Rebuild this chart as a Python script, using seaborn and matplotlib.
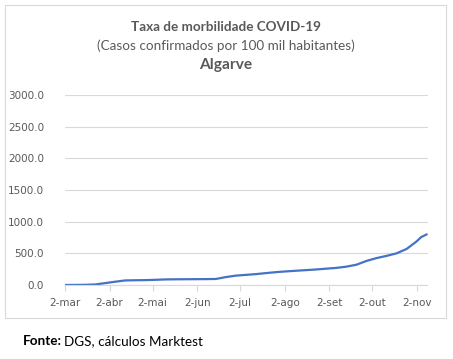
import matplotlib
matplotlib.use("Agg")
import matplotlib.pyplot as plt
import matplotlib.dates as mdates
from matplotlib.patches import Rectangle
import matplotlib.ticker as mticker
import seaborn as sns
import pandas as pd

dates = ["2020-03-02", "2020-03-09", "2020-03-16", "2020-03-23", "2020-03-30",
         "2020-04-06", "2020-04-13", "2020-04-20", "2020-04-27", "2020-05-04",
         "2020-05-11", "2020-05-18", "2020-05-25", "2020-06-01", "2020-06-08",
         "2020-06-15", "2020-06-22", "2020-06-29", "2020-07-06", "2020-07-13",
         "2020-07-20", "2020-07-27", "2020-08-03", "2020-08-10", "2020-08-17",
         "2020-08-24", "2020-08-31", "2020-09-07", "2020-09-14", "2020-09-21",
         "2020-09-28", "2020-10-05", "2020-10-12", "2020-10-19", "2020-10-26",
         "2020-11-02", "2020-11-05", "2020-11-09"]
values = [0, 1, 3, 8, 30,
          52, 72, 75, 77, 82,
          88, 90, 91, 92, 93,
          95, 125, 148, 160, 172,
          188, 203, 215, 225, 235,
          245, 258, 270, 290, 320,
          380, 425, 460, 500, 570,
          690, 755, 800]
tick_dates = ["2020-03-02", "2020-04-02", "2020-05-02", "2020-06-02", "2020-07-02",
              "2020-08-02", "2020-09-02", "2020-10-02", "2020-11-02"]
tick_labels = ["2-mar", "2-abr", "2-mai", "2-jun", "2-jul", "2-ago", "2-set", "2-out", "2-nov"]
y_ticks = [0, 500, 1000, 1500, 2000, 2500, 3000]

df = pd.DataFrame({"data": pd.to_datetime(dates), "taxa": values})

sns.set_theme(style="white")
plt.rcParams["font.family"] = ["Lato", "DejaVu Sans"]

fig = plt.figure(figsize=(4.53, 3.59), dpi=100)
ax = fig.add_axes([65 / 453, 1 - 285 / 359, (427.5 - 65) / 453, (285 - 95) / 359])

sns.lineplot(data=df, x="data", y="taxa", ax=ax, color="#4472C4", linewidth=1.6)

ax.set_xlim(pd.Timestamp("2020-03-02"), pd.Timestamp("2020-11-09 12:00"))
ax.set_ylim(0, 3000)
ax.set_yticks(y_ticks)
ax.yaxis.set_major_formatter(mticker.FormatStrFormatter("%.1f"))
ax.set_xticks(pd.to_datetime(tick_dates))
ax.set_xticklabels(tick_labels)
ax.grid(axis="y", color="#d9d9d9", linewidth=0.8)
ax.set_axisbelow(True)
for s in ["top", "right", "left"]:
    ax.spines[s].set_visible(False)
ax.spines["bottom"].set_color("#d9d9d9")
ax.spines["bottom"].set_linewidth(0.8)
ax.tick_params(axis="x", bottom=True, length=4, width=0.8, color="#d9d9d9",
               labelsize=7.5, labelcolor="#595959", pad=5)
ax.tick_params(axis="y", left=False, labelsize=7.5, labelcolor="#595959", pad=9)
for lbl in ax.get_xticklabels() + ax.get_yticklabels():
    lbl.set_family("DejaVu Sans")
ax.set_xlabel("")
ax.set_ylabel("")

fig.patches.append(Rectangle((5 / 453, 1 - 318 / 359), 441 / 453, 313 / 359,
                             transform=fig.transFigure, fill=False,
                             edgecolor="#d9d9d9", linewidth=0.8))

fig.text(226 / 453, 1 - 27 / 359, "Taxa de morbilidade COVID-19", ha="center", va="center",
         fontsize=9.7, fontweight="bold", color="#595959")
fig.text(226 / 453, 1 - 46 / 359, "(Casos confirmados por 100 mil habitantes)", ha="center",
         va="center", fontsize=9.7, color="#595959")
fig.text(226 / 453, 1 - 65 / 359, "Algarve", ha="center", va="center",
         fontsize=11.2, fontweight="bold", color="#595959")

fig.text(23 / 453, 1 - 341 / 359, "Fonte:", ha="left", va="center", fontsize=9.7,
         fontweight="bold", color="black")
fig.text(64 / 453, 1 - 341 / 359, "DGS, cálculos Marktest", ha="left", va="center",
         fontsize=9.7, color="black")

fig.savefig("out.png", dpi=100)
